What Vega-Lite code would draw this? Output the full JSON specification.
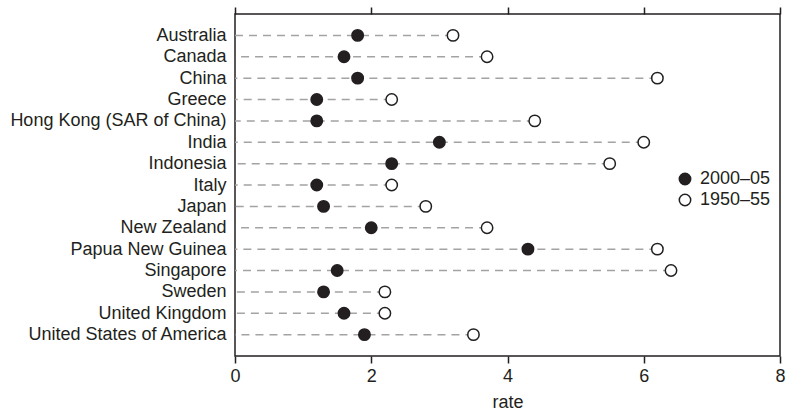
{
  "$schema": "https://vega.github.io/schema/vega-lite/v6.json",
  "width": 545,
  "height": 342,
  "autosize": {"type": "none"},
  "padding": {"left": 235, "top": 14, "right": 6, "bottom": 59},
  "background": "white",
  "config": {
    "view": {"stroke": "#231f20", "strokeWidth": 1.5},
    "font": "Liberation Sans",
    "axis": {"labelFont": "Liberation Sans", "titleFont": "Liberation Sans", "labelColor": "#231f20", "titleColor": "#231f20", "labelFontSize": 18, "titleFontSize": 18, "titleFontWeight": "normal", "grid": false, "tickColor": "#231f20", "domainColor": "#231f20", "labelLimit": 400},
    "legend": {"labelFont": "Liberation Sans", "labelFontSize": 18, "labelColor": "#231f20"}
  },
  "data": {
    "values": [
      {"country": "Australia", "period": "2000–05", "rate": 1.8},
      {"country": "Australia", "period": "1950–55", "rate": 3.2},
      {"country": "Canada", "period": "2000–05", "rate": 1.6},
      {"country": "Canada", "period": "1950–55", "rate": 3.7},
      {"country": "China", "period": "2000–05", "rate": 1.8},
      {"country": "China", "period": "1950–55", "rate": 6.2},
      {"country": "Greece", "period": "2000–05", "rate": 1.2},
      {"country": "Greece", "period": "1950–55", "rate": 2.3},
      {"country": "Hong Kong (SAR of China)", "period": "2000–05", "rate": 1.2},
      {"country": "Hong Kong (SAR of China)", "period": "1950–55", "rate": 4.4},
      {"country": "India", "period": "2000–05", "rate": 3.0},
      {"country": "India", "period": "1950–55", "rate": 6.0},
      {"country": "Indonesia", "period": "2000–05", "rate": 2.3},
      {"country": "Indonesia", "period": "1950–55", "rate": 5.5},
      {"country": "Italy", "period": "2000–05", "rate": 1.2},
      {"country": "Italy", "period": "1950–55", "rate": 2.3},
      {"country": "Japan", "period": "2000–05", "rate": 1.3},
      {"country": "Japan", "period": "1950–55", "rate": 2.8},
      {"country": "New Zealand", "period": "2000–05", "rate": 2.0},
      {"country": "New Zealand", "period": "1950–55", "rate": 3.7},
      {"country": "Papua New Guinea", "period": "2000–05", "rate": 4.3},
      {"country": "Papua New Guinea", "period": "1950–55", "rate": 6.2},
      {"country": "Singapore", "period": "2000–05", "rate": 1.5},
      {"country": "Singapore", "period": "1950–55", "rate": 6.4},
      {"country": "Sweden", "period": "2000–05", "rate": 1.3},
      {"country": "Sweden", "period": "1950–55", "rate": 2.2},
      {"country": "United Kingdom", "period": "2000–05", "rate": 1.6},
      {"country": "United Kingdom", "period": "1950–55", "rate": 2.2},
      {"country": "United States of America", "period": "2000–05", "rate": 1.9},
      {"country": "United States of America", "period": "1950–55", "rate": 3.5}
    ]
  },
  "resolve": {"axis": {"x": "independent"}},
  "layer": [
    {
      "mark": {"type": "rule", "color": "#a3a3a3", "strokeWidth": 1.5, "strokeDash": [8, 6]},
      "encoding": {
        "x": {"aggregate": "max", "field": "rate", "type": "quantitative", "title": "rate",
              "scale": {"domain": [0, 8]},
              "axis": {"orient": "bottom", "values": [0, 2, 4, 6, 8], "domain": false, "tickSize": 7, "tickWidth": 1.5, "labelPadding": 4, "titlePadding": 8, "labelFlush": false}},
        "x2": {"datum": 0},
        "y": {"field": "country", "type": "nominal", "sort": "ascending", "title": null,
              "scale": {"type": "point", "padding": 1},
              "axis": {"ticks": false, "domain": false, "labelPadding": 9, "labelLimit": 400}}
      }
    },
    {
      "mark": {"type": "point", "filled": true, "shape": "circle", "size": 130, "stroke": "#231f20", "strokeWidth": 1.5, "opacity": 1},
      "encoding": {
        "x": {"field": "rate", "type": "quantitative", "title": null,
              "scale": {"domain": [0, 8]},
              "axis": {"orient": "top", "values": [0, 2, 4, 6, 8], "labels": false, "domain": false, "tickSize": 7, "tickWidth": 1.5}},
        "y": {"field": "country", "type": "nominal", "sort": "ascending", "title": null},
        "fill": {"field": "period", "type": "nominal", "title": null,
                 "scale": {"domain": ["2000–05", "1950–55"], "range": ["#231f20", "white"]},
                 "legend": {"orient": "none", "legendX": 441, "legendY": 156, "symbolType": "circle", "symbolSize": 130, "symbolStrokeColor": "#231f20", "symbolStrokeWidth": 1.5, "symbolOpacity": 1, "labelOffset": 6, "rowPadding": 3}}
      }
    }
  ]
}
